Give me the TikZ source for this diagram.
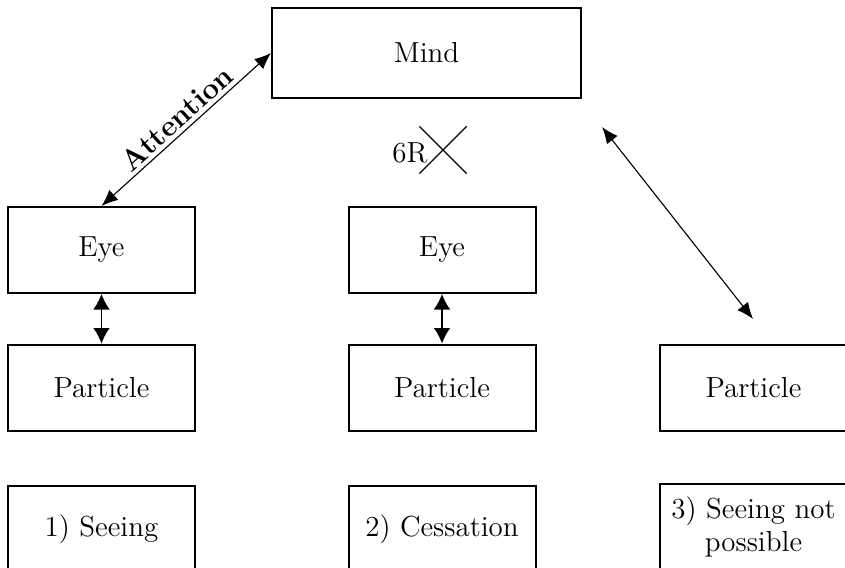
\documentclass[tikz,border=0pt]{standalone}
\usepackage{tikz}
\usetikzlibrary{arrows.meta,shapes.misc,positioning}

\tikzset{
	box/.style={draw, line width=0.8pt, minimum width=74.8pt, minimum height=34.4pt, inner sep=0pt, align=center},
	link/.style={line width=0.45pt, {Latex[length=6.6pt,width=5.4pt]}-{Latex[length=6.6pt,width=5.4pt]}},
	vlink/.style={line width=0.45pt, {Latex[length=6.2pt,width=6.6pt]}-{Latex[length=6.2pt,width=6.6pt]}}
}

\begin{document}
\begin{tikzpicture}[x=0.4pt, y=-0.4pt, font=\fontsize{11.6}{13.4}\selectfont]
			\clip (0,0) rectangle (845,567);
			\node[box, minimum width=123.6pt, minimum height=36pt] (Mind) at (426.5,53) {Mind};
			\node[box] (EyeA) at (101.5,250) {Eye};
			\node[box] (EyeB) at (442,250) {Eye};
			\node[box] (PartA) at (101.5,387.5) {Particle};
			\node[box] (PartB) at (442,387.5) {Particle};
			\node[box] (PartC) at (753.5,387.5) {Particle};
			\node[box] (SeeA) at (101.5,529) {1) Seeing};
			\node[box] (SeeB) at (442,529) {2) Cessation};
			\node[box] (SeeC) at (753.5,527) {3) Seeing not\\possible};
			\node (Six) at (410,153) {6R};
			\node[cross out, draw, line width=0.5pt, minimum size=18.4pt, inner sep=0pt] (Stop) at (443,150) {};
			\coordinate (MindEnd) at (602,127);
			\coordinate (PartEnd) at (753,319);
			\draw[link] (EyeA.north) -- node[sloped, above, inner sep=1.5pt, font=\fontsize{11.8}{13.4}\selectfont\bfseries] {Attention} (Mind.west);
			\draw[vlink] (EyeA.south) -- (PartA.north);
			\draw[vlink] (EyeB.south) -- (PartB.north);
			\draw[link] (MindEnd) -- (PartEnd);
		\end{tikzpicture}
\end{document}
